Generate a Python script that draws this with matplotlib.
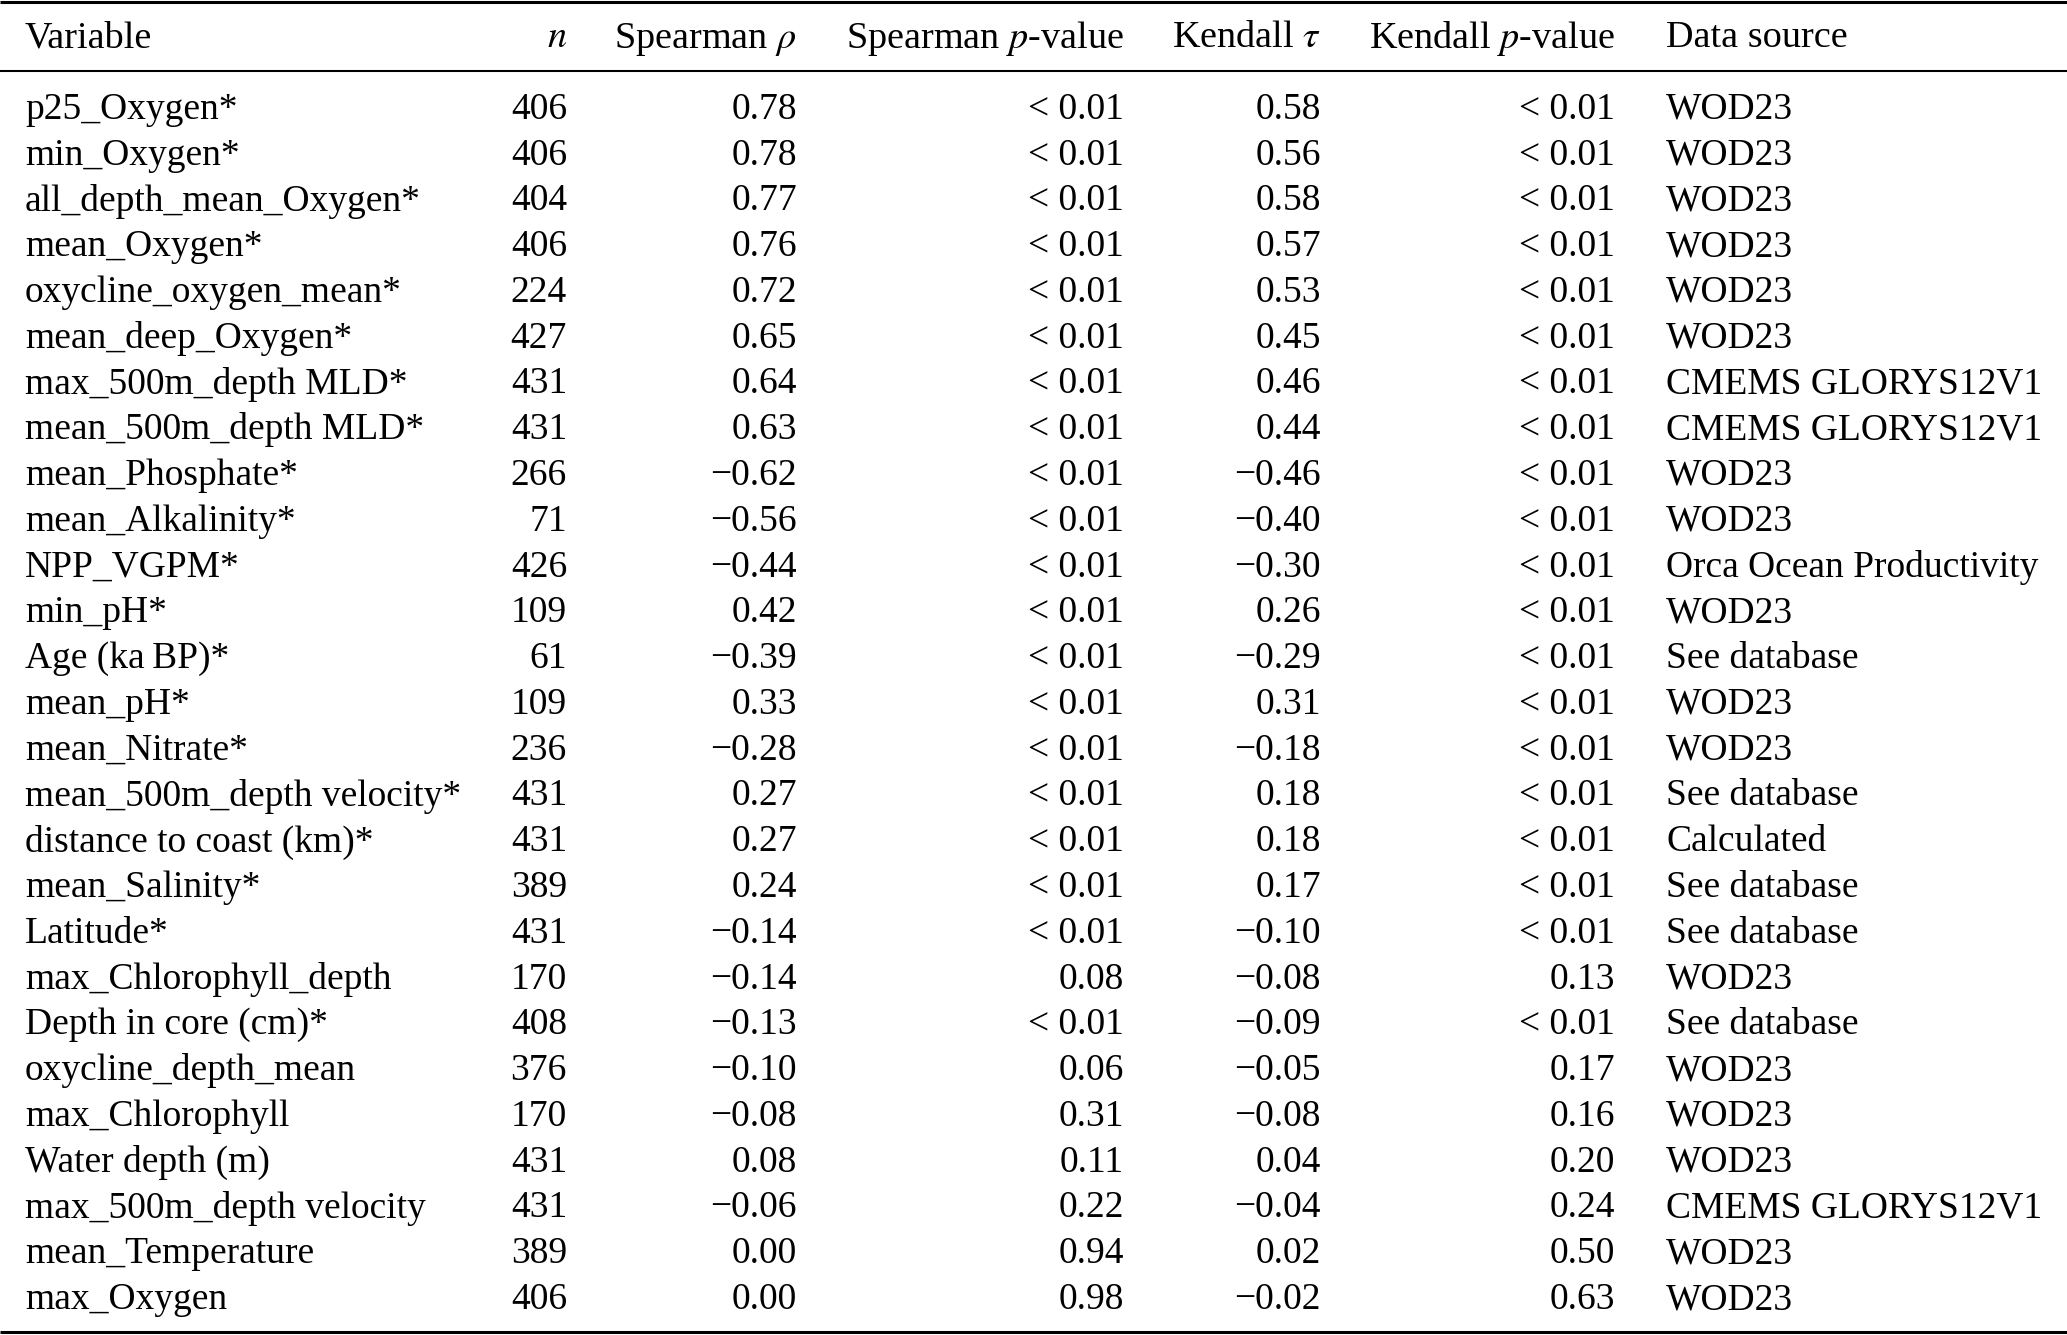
import matplotlib
matplotlib.use("Agg")
import matplotlib.pyplot as plt

plt.rcParams['font.family'] = ['Liberation Serif', 'DejaVu Serif']
plt.rcParams['mathtext.fontset'] = 'stix'

variables = ["p25_Oxygen*", "min_Oxygen*", "all_depth_mean_Oxygen*", "mean_Oxygen*",
             "oxycline_oxygen_mean*", "mean_deep_Oxygen*", "max_500m_depth MLD*",
             "mean_500m_depth MLD*", "mean_Phosphate*", "mean_Alkalinity*", "NPP_VGPM*",
             "min_pH*", "Age (ka\u2009BP)*", "mean_pH*", "mean_Nitrate*",
             "mean_500m_depth velocity*", "distance to coast (km)*", "mean_Salinity*",
             "Latitude*", "max_Chlorophyll_depth", "Depth in core (cm)*",
             "oxycline_depth_mean", "max_Chlorophyll", "Water depth (m)",
             "max_500m_depth velocity", "mean_Temperature", "max_Oxygen"]
n_values = [406, 406, 404, 406, 224, 427, 431, 431, 266, 71, 426, 109, 61, 109, 236,
            431, 431, 389, 431, 170, 408, 376, 170, 431, 431, 389, 406]
spearman_rho = [0.78, 0.78, 0.77, 0.76, 0.72, 0.65, 0.64, 0.63, -0.62, -0.56, -0.44,
                0.42, -0.39, 0.33, -0.28, 0.27, 0.27, 0.24, -0.14, -0.14, -0.13,
                -0.10, -0.08, 0.08, -0.06, 0.00, 0.00]
spearman_p = ["< 0.01"] * 19 + ["0.08", "< 0.01", "0.06", "0.31", "0.11", "0.22",
                                "0.94", "0.98"]
kendall_tau = [0.58, 0.56, 0.58, 0.57, 0.53, 0.45, 0.46, 0.44, -0.46, -0.40, -0.30,
               0.26, -0.29, 0.31, -0.18, 0.18, 0.18, 0.17, -0.10, -0.08, -0.09,
               -0.05, -0.08, 0.04, -0.04, 0.02, -0.02]
kendall_p = ["< 0.01"] * 19 + ["0.13", "< 0.01", "0.17", "0.16", "0.20", "0.24",
                               "0.50", "0.63"]
sources = ["WOD23"] * 6 + ["CMEMS GLORYS12V1"] * 2 + [
    "WOD23", "WOD23", "Orca Ocean Productivity", "WOD23", "See database", "WOD23",
    "WOD23", "See database", "Calculated", "See database", "See database", "WOD23",
    "See database", "WOD23", "WOD23", "WOD23", "CMEMS GLORYS12V1", "WOD23", "WOD23"]
headers = ["Variable", "$n$", r"Spearman $\rho$", "Spearman $p$-value",
           r"Kendall $\tau$", "Kendall $p$-value", "Data source"]

W, H = 2067, 1335
fig = plt.figure(figsize=(W / 100, H / 100), dpi=100)
ax = fig.add_axes([0, 0, 1, 1])
ax.set_xlim(0, W)
ax.set_ylim(H, 0)
ax.axis('off')

fs_head = 27.5
fs = 27
col_x = [25, 567, 797, 1124, 1321, 1615, 1666]
col_ha = ['left', 'right', 'right', 'right', 'right', 'right', 'left']

def fmt(v):
    return f"{v:.2f}".replace("-", "\u2212")

header_y = 34
row0 = 105.5
pitch = 45.78

for x, ha, h in zip(col_x, col_ha, headers):
    ax.text(x, header_y, h, ha=ha, va='center_baseline', fontsize=fs_head)

for i in range(len(variables)):
    y = row0 + i * pitch
    cells = [variables[i], str(n_values[i]), fmt(spearman_rho[i]), spearman_p[i],
             fmt(kendall_tau[i]), kendall_p[i], sources[i]]
    for x, ha, c in zip(col_x, col_ha, cells):
        ax.text(x, y, c, ha=ha, va='center_baseline', fontsize=fs)

ax.plot([0, W], [1.5, 1.5], color='black', lw=2.2, solid_capstyle='butt')
ax.plot([0, W], [71, 71], color='black', lw=1.5, solid_capstyle='butt')
ax.plot([0, W], [1332, 1332], color='black', lw=2.2, solid_capstyle='butt')

fig.savefig("out.png", dpi=100)
